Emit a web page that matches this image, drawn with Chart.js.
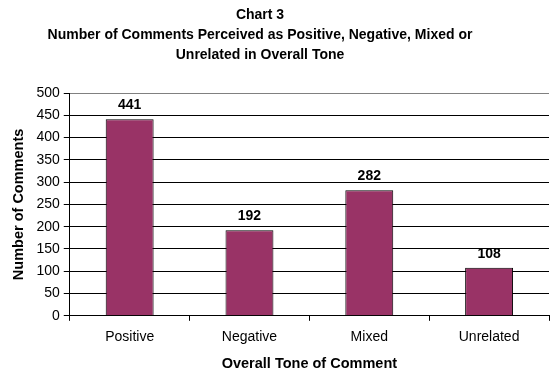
<!DOCTYPE html>
<html>
<head>
<meta charset="utf-8">
<script src="https://cdn.jsdelivr.net/npm/chart.js@4"></script>
<style>
  body { margin: 0; background: #fff; }
  #wrap { position: relative; width: 555px; height: 377px; }
  #titulo {
    position: absolute; left: 0; top: 4px; width: 520px;
    text-align: center; font: bold 14px "Liberation Sans", Arial, sans-serif;
    line-height: 20px; color: #000;
  }
  canvas { position: absolute; left: 0; top: 0; }
</style>
</head>
<body>
<div id="wrap">
  <canvas id="myChart3" width="555" height="377"></canvas>
  <div id="titulo">Chart 3<br>Number of Comments Perceived as Positive, Negative, Mixed or<br>Unrelated in Overall Tone</div>
</div>
<script>
const categorias = ['Positive', 'Negative', 'Mixed', 'Unrelated'];
const comentarios = [441, 192, 282, 108];

const fuente = "'Liberation Sans', Arial, sans-serif";

// numeros encima de las barras
const etiquetas = {
  id: 'etiquetas',
  afterDatasetsDraw(chart) {
    const ctx = chart.ctx;
    const meta = chart.getDatasetMeta(0);
    ctx.save();
    ctx.font = 'bold 14px ' + fuente;
    ctx.fillStyle = '#000';
    ctx.textAlign = 'center';
    ctx.textBaseline = 'alphabetic';
    meta.data.forEach((bar, i) => {
      ctx.fillText(comentarios[i], bar.x, bar.y - 10);
    });
    ctx.restore();
  }
};

const ctx = document.getElementById('myChart3').getContext('2d');
const myChart3 = new Chart(ctx, {
  type: 'bar',
  data: {
    labels: categorias,
    datasets: [{
      label: 'Number of Comments',
      data: comentarios,
      backgroundColor: '#993366',
      borderColor: '#000',
      borderWidth: 1,
      categoryPercentage: 1,
      barPercentage: 0.4
    }]
  },
  options: {
    responsive: false,
    animation: false,
    layout: { padding: { top: 93, right: 6, bottom: 4, left: 10 } },
    plugins: {
      legend: { display: false },
      tooltip: { enabled: false },
      title: { display: false }
    },
    scales: {
      x: {
        grid: {
          offset: true,
          drawOnChartArea: true,
          color: (c) => c.index === 4 ? '#808080' : 'rgba(0,0,0,0)',
          tickColor: '#000',
          tickLength: 5
        },
        border: { color: '#000' },
        ticks: { color: '#000', font: { family: fuente, size: 14 }, padding: 8 },
        title: {
          display: true, text: 'Overall Tone of Comment', color: '#000',
          font: { family: fuente, size: 14.5, weight: 'bold' }, padding: { top: 2, bottom: 0 }
        }
      },
      y: {
        min: 0,
        max: 500,
        ticks: { stepSize: 50, color: '#000', font: { family: fuente, size: 14 }, padding: 4 },
        grid: {
          color: (c) => c.tick && c.tick.value === 500 ? '#808080' : '#000',
          tickColor: '#000',
          tickLength: 6
        },
        border: { color: '#000' },
        title: {
          display: true, text: 'Number of Comments', color: '#000',
          font: { family: fuente, size: 14.5, weight: 'bold' }, padding: { top: 0, bottom: 5 }
        }
      }
    }
  },
  plugins: [etiquetas]
});
</script>
</body>
</html>
